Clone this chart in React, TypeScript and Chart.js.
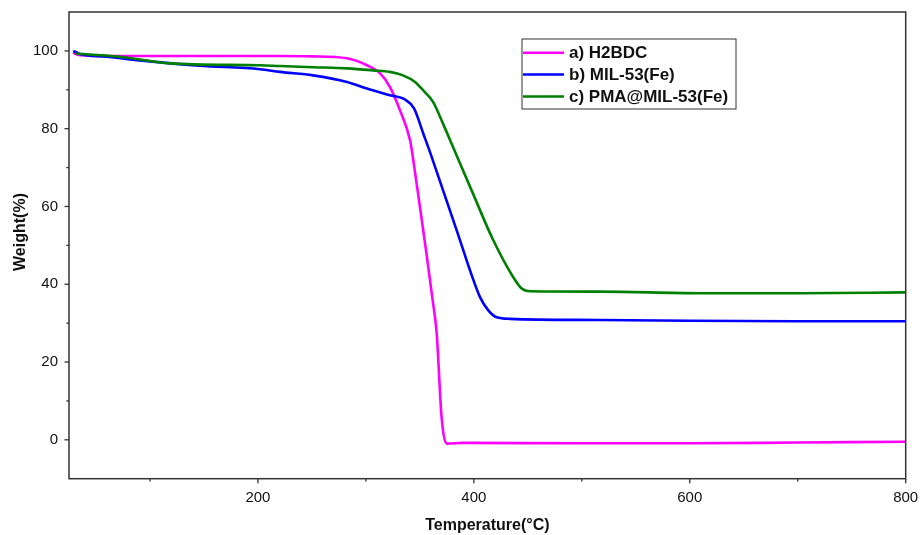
import React, { useEffect, useRef } from "react";
import { Chart, registerables } from "chart.js";

Chart.register(...registerables);

const seriesLabels = ["a) H2BDC", "b) MIL-53(Fe)", "c) PMA@MIL-53(Fe)"];
const seriesColors = ["#FF00FF", "#0000FF", "#008000"];

const h2bdcT = [28.7, 35, 60, 100, 146, 220, 250, 282.5, 301, 313, 322.3, 331.6, 340.9, 343.8, 350.1, 355.7, 361.9, 365.6, 370.2, 375.4, 390, 500, 600, 700, 800];
const h2bdcW = [99.5, 98.9, 98.7, 98.7, 98.7, 98.7, 98.6, 98.1, 96.3, 94.3, 90.7, 84.7, 77, 72.1, 59.8, 48.7, 35.8, 27.3, 5.5, -1.0, -0.8, -0.9, -0.9, -0.7, -0.5];

const milT = [29, 35.2, 60, 100, 146.3, 202, 220.4, 251, 282.5, 301, 322.3, 336.2, 344.6, 353.2, 361, 387.2, 396.4, 405.7, 413.4, 421.2, 433.5, 516.8, 600, 700, 800];
const milW = [100, 99.2, 98.5, 97.3, 96.2, 95.3, 94.6, 93.7, 92, 90.3, 88.6, 87.5, 85.2, 78.7, 72.7, 51.3, 43.6, 36.7, 33.3, 31.5, 31.1, 30.8, 30.6, 30.5, 30.5];

const pmaT = [30.6, 38, 72.2, 118.6, 202, 220.4, 251, 282.5, 306.6, 322.3, 334.4, 345.5, 352.9, 362.2, 371.4, 380.7, 399.2, 418, 436.5, 444.3, 452, 516.8, 609.5, 700, 800];
const pmaW = [99.3, 99.2, 98.5, 96.8, 96.3, 96.1, 95.8, 95.5, 95, 94.6, 93.7, 92, 89.9, 86.9, 81.3, 75.3, 63.3, 51.3, 41.8, 38.9, 38.2, 38.1, 37.7, 37.7, 37.9];

const xMajorTicks = [200, 400, 600, 800];
const xMinorTicks = [100, 300, 500, 700];
const yMajorTicks = [0, 20, 40, 60, 80, 100];
const yMinorTicks = [10, 30, 50, 70, 90];
const yTitle = "Weight(%)";
const xTitle = "Temperature(°C)";

const FONT = "'Liberation Sans', Arial, sans-serif";
const FRAME = "#333333";

const toPts = (xs: number[], ys: number[]) => xs.map((x, i) => ({ x, y: ys[i] }));

const framePlugin = {
  id: "frameTicks",
  afterDraw(chart: any) {
    const ctx = chart.ctx;
    const a = chart.chartArea;
    const xs = chart.scales.x;
    const ys = chart.scales.y;
    ctx.save();
    ctx.strokeStyle = FRAME;
    ctx.lineWidth = 1.5;
    ctx.strokeRect(a.left, a.top, a.right - a.left, a.bottom - a.top);
    ctx.lineWidth = 1.3;
    const tick = (x1: number, y1: number, x2: number, y2: number) => {
      ctx.beginPath();
      ctx.moveTo(x1, y1);
      ctx.lineTo(x2, y2);
      ctx.stroke();
    };
    xMajorTicks.forEach((v) => { const p = xs.getPixelForValue(v); tick(p, a.bottom, p, a.bottom + 4.5); });
    xMinorTicks.forEach((v) => { const p = xs.getPixelForValue(v); tick(p, a.bottom, p, a.bottom + 2.7); });
    yMajorTicks.forEach((v) => { const p = ys.getPixelForValue(v); tick(a.left, p, a.left - 4.5, p); });
    yMinorTicks.forEach((v) => { const p = ys.getPixelForValue(v); tick(a.left, p, a.left - 2.7, p); });

    // y title
    ctx.save();
    ctx.translate(21, 232);
    ctx.rotate(-Math.PI / 2);
    ctx.fillStyle = "#111";
    ctx.font = `bold 16px ${FONT}`;
    ctx.textAlign = "center";
    ctx.textBaseline = "middle";
    ctx.fillText(yTitle, 0, 0);
    ctx.restore();

    // legend box
    const bx = 522, by = 39, bw = 214, bh = 70;
    ctx.lineWidth = 1;
    ctx.strokeStyle = FRAME;
    ctx.strokeRect(bx, by, bw, bh);
    const rows = [52.7, 74.5, 96.5];
    seriesLabels.forEach((lab, i) => {
      ctx.strokeStyle = seriesColors[i];
      ctx.lineWidth = 2.5;
      tick(523, rows[i], 564, rows[i]);
      ctx.fillStyle = "#111";
      ctx.font = `bold 17px ${FONT}`;
      ctx.textBaseline = "middle";
      ctx.textAlign = "left";
      ctx.fillText(lab, 569, rows[i] + 1);
    });
    ctx.restore();
  },
};

export default function App() {
  const ref = useRef<HTMLCanvasElement | null>(null);
  useEffect(() => {
    if (!ref.current) return;
    const chart = new Chart(ref.current, {
      type: "line",
      data: {
        datasets: [
          { label: seriesLabels[0], data: toPts(h2bdcT, h2bdcW), borderColor: seriesColors[0], order: 2 },
          { label: seriesLabels[1], data: toPts(milT, milW), borderColor: seriesColors[1], order: 1 },
          { label: seriesLabels[2], data: toPts(pmaT, pmaW), borderColor: seriesColors[2], order: 0 },
        ].map((d) => ({ ...d, borderWidth: 2.6, pointRadius: 0, fill: false, cubicInterpolationMode: "monotone" as const })),
      },
      options: {
        animation: false,
        responsive: true,
        maintainAspectRatio: false,
        layout: { padding: { top: 12, right: 15.3, left: 0, bottom: 0 } },
        plugins: { legend: { display: false }, tooltip: { enabled: false } },
        scales: {
          x: {
            type: "linear",
            min: 25,
            max: 800,
            afterBuildTicks: (s: any) => { s.ticks = [100, 200, 300, 400, 500, 600, 700, 800].map((v) => ({ value: v })); },
            afterFit: (s: any) => { s.height = 56.3; s.paddingLeft = 0; s.paddingRight = 0; s.paddingTop = 0; s.paddingBottom = 0; },
            border: { display: false },
            grid: { display: true, drawOnChartArea: false, drawTicks: true, tickLength: 4, tickColor: "rgba(0,0,0,0)" },
            ticks: {
              autoSkip: false,
              maxRotation: 0,
              padding: 6,
              color: "#111",
              font: { family: FONT, size: 15 },
              callback: (v: any) => (Number(v) % 200 === 0 ? String(v) : ""),
            },
            title: { display: true, text: xTitle, color: "#111", font: { family: FONT, size: 16, weight: "bold" }, padding: { top: 0, bottom: 0 } },
          },
          y: {
            type: "linear",
            min: -10,
            max: 110,
            afterBuildTicks: (s: any) => { s.ticks = [0, 10, 20, 30, 40, 50, 60, 70, 80, 90, 100].map((v) => ({ value: v })); },
            afterFit: (s: any) => { s.width = 69; s.paddingLeft = 0; s.paddingRight = 0; s.paddingTop = 0; s.paddingBottom = 0; },
            border: { display: false },
            grid: { display: true, drawOnChartArea: false, drawTicks: true, tickLength: 4, tickColor: "rgba(0,0,0,0)" },
            ticks: {
              autoSkip: false,
              padding: 7,
              color: "#111",
              font: { family: FONT, size: 15 },
              callback: (v: any) => (Number(v) % 20 === 0 ? String(v) : ""),
            },
            title: { display: false },
          },
        },
      },
      plugins: [framePlugin],
    });
    return () => chart.destroy();
  }, []);
  return (
    <div style={{ position: "absolute", left: 0, top: 0, width: 921, height: 535, background: "#fff" }}>
      <canvas ref={ref} />
    </div>
  );
}
